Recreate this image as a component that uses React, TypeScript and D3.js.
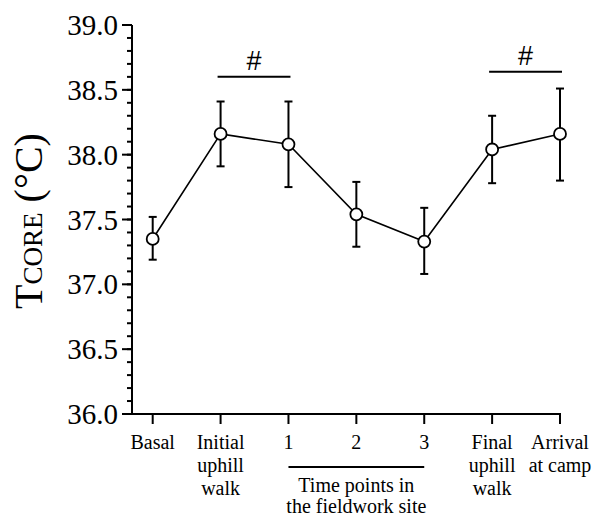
import * as d3 from 'd3';

const categories = ['Basal', 'Initial', '1', '2', '3', 'Final', 'Arrival'];
const categoryLines = [
  ['Basal'],
  ['Initial', 'uphill', 'walk'],
  ['1'],
  ['2'],
  ['3'],
  ['Final', 'uphill', 'walk'],
  ['Arrival', 'at camp'],
];
const means = [37.35, 38.16, 38.08, 37.54, 37.33, 38.04, 38.16];
const upper = [37.52, 38.41, 38.41, 37.79, 37.59, 38.3, 38.51];
const lower = [37.19, 37.91, 37.75, 37.29, 37.08, 37.78, 37.8];
const majorTicks = [36.0, 36.5, 37.0, 37.5, 38.0, 38.5, 39.0];
const minorTicks = d3.range(36, 39.001, 0.1);
// significance bars: [from index, to index]
const sigPairs = [
  [1, 2],
  [5, 6],
];
const sigValues = [38.6, 38.64];

const W = 600;
const H = 516;
const axisX = 132;
const axisY = 414;

const App = () => {
  const y = d3.scaleLinear().domain([36, 39]).range([414, 25]);
  const x = d3.scalePoint().domain(categories).range([152.7, 560]);

  const line = d3
    .line<number>()
    .x((_, i) => x(categories[i]) as number)
    .y((d) => y(d));

  const serif = "'Times New Roman', 'Liberation Serif', Times, serif";

  return (
    <svg width={W} height={H} style={{ position: 'absolute', left: 0, top: 0 }}>
      <rect width={W} height={H} fill="white" />

      {/* y axis */}
      <line x1={axisX} x2={axisX} y1={y(39)} y2={axisY + 1} stroke="black" strokeWidth={2} />
      {minorTicks.map((t, i) => (
        <line key={'mn' + i} x1={axisX - 5} x2={axisX} y1={y(t)} y2={y(t)} stroke="black" strokeWidth={2} />
      ))}
      {majorTicks.map((t) => (
        <g key={'mj' + t}>
          <line x1={axisX - 10} x2={axisX} y1={y(t)} y2={y(t)} stroke="black" strokeWidth={2} />
          <text
            x={118}
            y={y(t)}
            dy="0.35em"
            textAnchor="end"
            fontFamily={serif}
            fontSize={29}
          >
            {t.toFixed(1)}
          </text>
        </g>
      ))}

      {/* y title */}
      <text
        transform={`translate(42,${221}) rotate(-90)`}
        textAnchor="middle"
        fontFamily={serif}
        fontSize={40}
      >
        T<tspan fontSize={27}>CORE</tspan> (°C)
      </text>

      {/* x axis */}
      <line x1={axisX - 1} x2={560 + 1} y1={axisY} y2={axisY} stroke="black" strokeWidth={2} />
      {categories.map((c, i) => (
        <g key={'xt' + c}>
          <line
            x1={x(c)}
            x2={x(c)}
            y1={axisY}
            y2={axisY + 10}
            stroke="black"
            strokeWidth={2}
          />
          <text textAnchor="middle" fontFamily={serif} fontSize={20}>
            {categoryLines[i].map((l, j) => (
              <tspan key={j} x={x(c)} y={449 + j * 23}>
                {l}
              </tspan>
            ))}
          </text>
        </g>
      ))}

      {/* fieldwork bracket */}
      <line x1={x('1')} x2={x('3')} y1={467} y2={467} stroke="black" strokeWidth={2} />
      <text textAnchor="middle" fontFamily={serif} fontSize={20}>
        <tspan x={x('2')} y={492}>
          Time points in
        </tspan>
        <tspan x={x('2')} y={513}>
          the fieldwork site
        </tspan>
      </text>

      {/* significance */}
      {sigPairs.map(([a, b], k) => {
        const x1 = (x(categories[a]) as number) - 3;
        const x2 = (x(categories[b]) as number) + 2;
        const yy = y(sigValues[k]);
        return (
          <g key={'sig' + k}>
            <line x1={x1} x2={x2} y1={yy} y2={yy} stroke="black" strokeWidth={2} />
            <text
              x={(x1 + x2) / 2}
              y={yy - 7}
              textAnchor="middle"
              fontFamily="'Liberation Sans', Arial, sans-serif"
              fontSize={27}
            >
              #
            </text>
          </g>
        );
      })}

      {/* error bars */}
      {categories.map((c, i) => {
        const cx = x(c) as number;
        return (
          <g key={'eb' + c} stroke="black" strokeWidth={2}>
            <line x1={cx} x2={cx} y1={y(upper[i])} y2={y(lower[i])} />
            <line x1={cx - 4} x2={cx + 4} y1={y(upper[i])} y2={y(upper[i])} />
            <line x1={cx - 4} x2={cx + 4} y1={y(lower[i])} y2={y(lower[i])} />
          </g>
        );
      })}

      <path d={line(means) || ''} fill="none" stroke="black" strokeWidth={1.6} />

      {means.map((m, i) => (
        <circle
          key={'pt' + i}
          cx={x(categories[i])}
          cy={y(m)}
          r={6}
          fill="white"
          stroke="black"
          strokeWidth={1.8}
        />
      ))}
    </svg>
  );
};

export default App;
